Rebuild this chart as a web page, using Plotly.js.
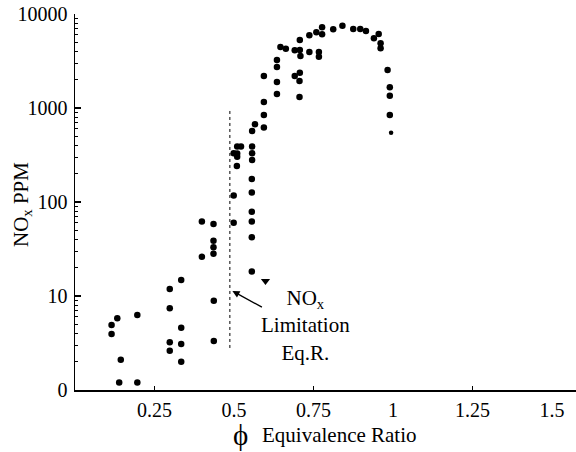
<!DOCTYPE html>
<html>
<head>
<meta charset="utf-8">
<script src="https://cdn.plot.ly/plotly-3.0.1.min.js"></script>
<style>html,body{margin:0;padding:0;background:#fff;}#chart{width:576px;height:452px;}</style>
</head>
<body>
<div id="chart"></div>
<script>
// Equivalence ratio (x) and NOx ppm (y) for the round markers
const phi = [0.115,0.115,0.133,0.139,0.144,0.196,0.196,0.298,0.298,0.298,0.298,0.334,0.334,0.334,0.334,
  0.4365,0.4365,0.399,0.399,0.4355,0.4355,0.4355,0.4355,0.499,0.499,0.509,0.510,0.499,0.510,0.510,0.522,
  0.557,0.557,0.557,0.556,0.556,0.556,0.556,0.556,0.556,0.557,0.566,0.594,0.594,0.594,0.594,
  0.635,0.635,0.635,0.635,0.646,0.663,0.691,0.707,0.707,0.709,0.691,0.707,0.706,0.706,
  0.737,0.737,0.759,0.767,0.767,0.777,0.777,0.812,0.841,0.875,0.897,0.915,0.940,0.955,0.961,0.961,
  0.983,0.990,0.990,0.990];
const nox = [4.92,3.94,5.79,1.20,2.10,6.28,1.20,11.9,7.40,3.22,2.62,14.8,4.60,3.09,2.00,
  8.91,3.32,62.0,26.2,58.3,38.7,33.0,28.2,117,60.2,242,303,330,328,389,389,
  389,330,279,176,126,78.8,62.0,42.1,18.2,569,671,620,842,1158,2190,
  1409,1891,2730,3240,4456,4275,4110,5290,4140,3575,2190,2374,1937,1309,
  5935,3942,6388,3942,3513,7220,6083,6875,7508,6925,6925,6592,5513,6125,4880,4318,
  2537,1660,1352,842];
// last (smaller) marker at the lean-rich turn
const phiEnd = [0.994];
const noxEnd = [546];
// downward triangle marker
const phiTri = [0.599];
const noxTri = [14.4];

// NOx limitation equivalence ratio line
const limitPhi = 0.487;
const limitLow = 2.8, limitHigh = 953;

const xTickVals = [0.25,0.5,0.75,1,1.25,1.5];
const xTickText = ['0.25','0.5','0.75','1','1.25','1.5'];
const xMinorTicks = [0.25,0.75,1.25];
const yTickVals = [1,10,100,1000,10000];
const yTickText = ['0','10','100','1000','10000'];
const yMinorTicks = [];
[1,10,100,1000].forEach(d => { for (let k = 2; k <= 9; k++) yMinorTicks.push(d*k); });

const font = 'Liberation Serif, Times New Roman, serif';

const traces = [
  {x: phi, y: nox, type: 'scatter', mode: 'markers',
   marker: {color: '#000', size: 6.5}, hoverinfo: 'skip'},
  {x: phiEnd, y: noxEnd, type: 'scatter', mode: 'markers',
   marker: {color: '#000', size: 4.5}, hoverinfo: 'skip'},
  {x: phiTri, y: noxTri, type: 'scatter', mode: 'markers',
   marker: {color: '#000', size: 8, symbol: 'triangle-down'}, hoverinfo: 'skip'}
];

const layout = {
  width: 576, height: 452,
  margin: {l: 75, r: 0, t: 14, b: 62},
  paper_bgcolor: '#fff', plot_bgcolor: '#fff',
  showlegend: false,
  font: {family: font, size: 20, color: '#000'},
  xaxis: {
    range: [0, 1.5755], showgrid: false, zeroline: false,
    showline: true, linecolor: '#000', linewidth: 1.5,
    tickmode: 'array', tickvals: xTickVals, ticktext: xTickText,
    ticks: '', ticklabelstandoff: 1,
    tickfont: {family: font, size: 20, color: '#000'},
    minor: {tickmode: 'array', tickvals: xMinorTicks, ticks: 'inside', ticklen: 4, tickcolor: '#000', tickwidth: 1, showgrid: false}
  },
  yaxis: {
    type: 'log', range: [0, 4], showgrid: false, zeroline: false,
    showline: true, linecolor: '#000', linewidth: 1.5,
    tickmode: 'array', tickvals: yTickVals, ticktext: yTickText,
    ticks: 'inside', ticklen: 6, tickwidth: 1.2, tickcolor: '#000',
    ticklabelstandoff: 2,
    tickfont: {family: font, size: 20, color: '#000'},
    minor: {tickmode: 'array', tickvals: yMinorTicks, ticks: 'inside', ticklen: 3, tickcolor: '#000', tickwidth: 1, showgrid: false}
  },
  shapes: [
    {type: 'line', xref: 'x', yref: 'y', x0: limitPhi, x1: limitPhi,
     y0: limitLow, y1: limitHigh,
     line: {color: '#000', width: 1, dash: 'dot'}}
  ],
  annotations: [
    {xref: 'x', yref: 'y', x: 0.495, y: Math.log10(11.3), text: '', showarrow: true,
     arrowhead: 2, arrowsize: 1.1, arrowwidth: 1.3, arrowcolor: '#000', ax: 31, ay: 17},
    {xref: 'x', yref: 'y', x: 0.725, y: Math.log10(4.9), text: 'NO<sub>x</sub><br>Limitation<br>Eq.R.',
     showarrow: false, xanchor: 'center', yanchor: 'middle', align: 'center',
     font: {family: font, size: 21, color: '#000'}},
    {xref: 'paper', yref: 'paper', x: (22-75)/501, y: (390-205)/376, text: 'NO<sub>x</sub> PPM',
     textangle: -90, showarrow: false, xanchor: 'center', yanchor: 'middle',
     font: {family: font, size: 21, color: '#000'}},
    {xref: 'paper', yref: 'paper', x: (240-75)/501, y: (390-435)/376, text: 'ϕ',
     showarrow: false, xanchor: 'center', yanchor: 'middle',
     font: {family: font, size: 29, color: '#000'}},
    {xref: 'paper', yref: 'paper', x: (339-75)/501, y: (390-435)/376, text: 'Equivalence Ratio',
     showarrow: false, xanchor: 'center', yanchor: 'middle',
     font: {family: font, size: 21, color: '#000'}}
  ]
};

Plotly.newPlot('chart', traces, layout, {staticPlot: true, displayModeBar: false});
</script>
</body>
</html>
